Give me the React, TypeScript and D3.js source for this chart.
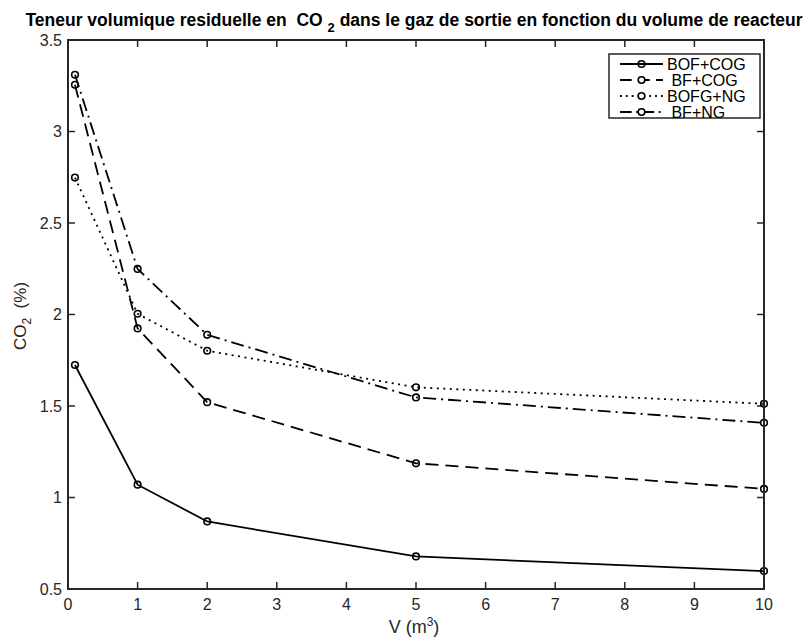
import React from "react";
import * as d3 from "d3";

const xValues = [0.1, 1, 2, 5, 10];
const seriesNames = ["BOF+COG", " BF+COG", "BOFG+NG", " BF+NG"];
const bofCog = [1.724, 1.07, 0.869, 0.678, 0.598];
const bfCog = [3.255, 1.924, 1.521, 1.187, 1.047];
const bofgNg = [2.748, 2.004, 1.802, 1.602, 1.512];
const bfNg = [3.31, 2.249, 1.889, 1.547, 1.408];
const xTicks = [0, 1, 2, 3, 4, 5, 6, 7, 8, 9, 10];
const yTicks = [0.5, 1, 1.5, 2, 2.5, 3, 3.5];
const yTickLabels = ["0.5", "1", "1.5", "2", "2.5", "3", "3.5"];

const W = 803, H = 637;
const M = { left: 68, right: 764, top: 40, bottom: 589 };
const AX = "#262626";
const FONT = "'Liberation Sans', Arial, Helvetica, sans-serif";
const dashes = [null, "13,7", "2,4.5", "13,5,2,5"];

export default function App() {
  const x = d3.scaleLinear().domain([0, 10]).range([M.left, M.right]);
  const y = d3.scaleLinear().domain([0.5, 3.5]).range([M.bottom, M.top]);
  const series = [bofCog, bfCog, bofgNg, bfNg];
  const line = d3
    .line<number>()
    .x((_, i) => x(xValues[i]))
    .y((d) => y(d));
  const tl = 7;
  const legX = 609, legY = 54, legW = 151, legH = 64;
  const rowH = 16;
  return (
    <svg width={W} height={H} style={{ position: "absolute", left: 0, top: 0, background: "#fff" }} fontFamily={FONT}>
      <rect x={0} y={0} width={W} height={H} fill="#fff" />
      {xTicks.map((t) => (
        <g key={"xt" + t} stroke={AX} strokeWidth={1.5}>
          <line x1={x(t)} x2={x(t)} y1={M.bottom} y2={M.bottom - tl} />
          <line x1={x(t)} x2={x(t)} y1={M.top} y2={M.top + tl} />
        </g>
      ))}
      {yTicks.map((t) => (
        <g key={"yt" + t} stroke={AX} strokeWidth={1.5}>
          <line x1={M.left} x2={M.left + tl} y1={y(t)} y2={y(t)} />
          <line x1={M.right} x2={M.right - tl} y1={y(t)} y2={y(t)} />
        </g>
      ))}
      {series.map((s, k) => (
        <g key={"s" + k}>
          <path d={line(s) || ""} fill="none" stroke="#000" strokeWidth={1.8} strokeDasharray={dashes[k] || undefined} />
          {s.map((v, i) => (
            <circle key={i} cx={x(xValues[i])} cy={y(v)} r={3.3} fill="none" stroke="#000" strokeWidth={1.6} />
          ))}
        </g>
      ))}
      <rect x={M.left} y={M.top} width={M.right - M.left} height={M.bottom - M.top} fill="none" stroke={AX} strokeWidth={2} />
      {xTicks.map((t) => (
        <text key={"xl" + t} x={x(t)} y={609.5} textAnchor="middle" fontSize={16} fill={AX}>
          {t}
        </text>
      ))}
      {yTicks.map((t, i) => (
        <text key={"yl" + t} x={M.left - 6} y={y(t) + 5.7} textAnchor="end" fontSize={16} fill={AX}>
          {yTickLabels[i]}
        </text>
      ))}
      <text x={414} y={633} textAnchor="middle" fontSize={18} fill={AX} xmlSpace="preserve">
        V (m<tspan dy={-7} fontSize={12}>3</tspan><tspan dy={7}>)</tspan>
      </text>
      <text transform={`translate(${26},${316}) rotate(-90)`} textAnchor="middle" fontSize={17} fill={AX} xmlSpace="preserve">
        CO<tspan dy={5} fontSize={12}>2</tspan><tspan dy={-5}>{"  (%)"}</tspan>
      </text>
      <text x={414} y={26} textAnchor="middle" fontSize={17.5} fontWeight="bold" fill="#000" xmlSpace="preserve">
        {"Teneur volumique residuelle en  CO "}<tspan dy={6} fontSize={13}>2</tspan><tspan dy={-6}>{" dans le gaz de sortie en fonction du volume de reacteur"}</tspan>
      </text>
      <rect x={legX} y={legY} width={legW} height={legH} fill="#fff" stroke={AX} strokeWidth={1.5} />
      {seriesNames.map((n, k) => {
        const cy = legY + 10 + k * rowH;
        return (
          <g key={"lg" + k}>
            <line x1={620} x2={663} y1={cy} y2={cy} stroke="#000" strokeWidth={1.8} strokeDasharray={dashes[k] ? dashes[k]!.split(",").map((v) => +v * 0.9).join(",") : undefined} />
            <circle cx={641.5} cy={cy} r={3.3} fill={k === 0 ? "none" : "#fff"} stroke="#000" strokeWidth={1.6} />
            <text x={667} y={cy + 5.5} fontSize={16} fill="#000" xmlSpace="preserve">
              {n}
            </text>
          </g>
        );
      })}
    </svg>
  );
}
